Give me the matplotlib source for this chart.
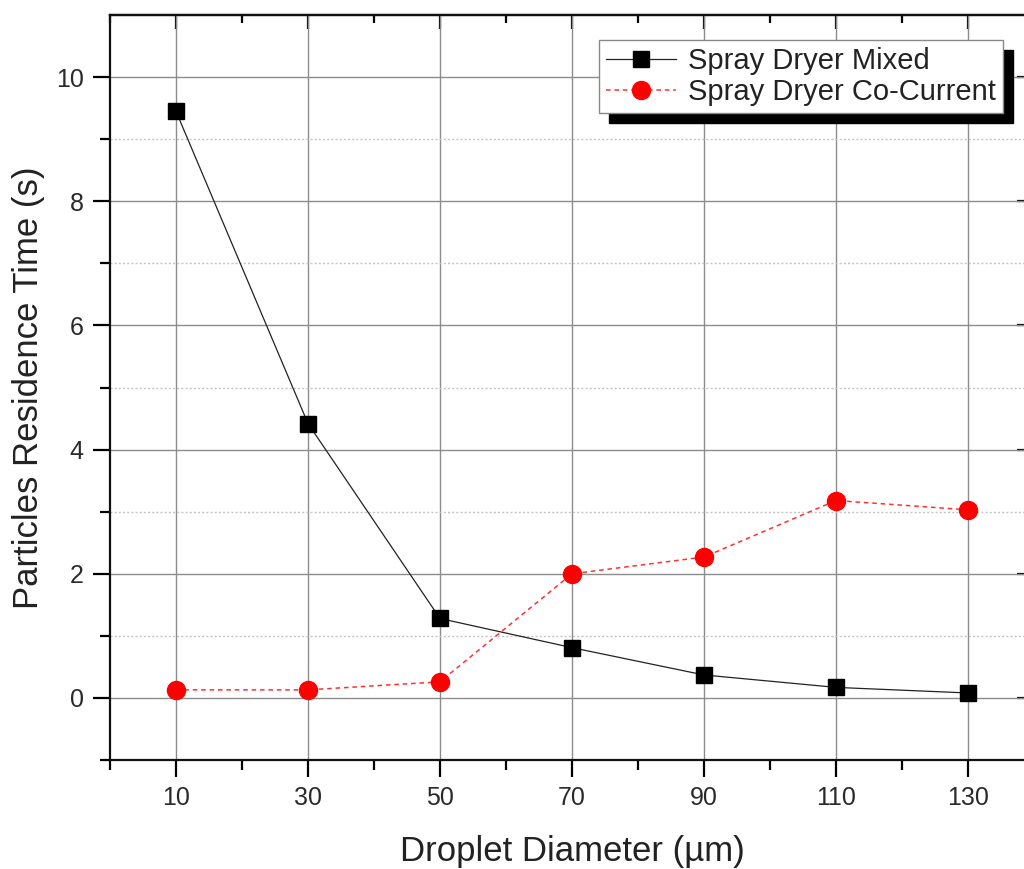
import matplotlib.pyplot as plt
import numpy as np

plt.rcParams['font.family'] = ['Liberation Sans', 'DejaVu Sans']

diameter = [10, 30, 50, 70, 90, 110, 130]
mixed = [9.45, 4.42, 1.28, 0.81, 0.37, 0.17, 0.08]
co_current = [0.13, 0.13, 0.26, 2.00, 2.27, 3.18, 3.03]

fig = plt.figure(figsize=(10.24, 8.69), dpi=100)
# axes run past the right edge of the figure, so the right spine is cut off
ax = fig.add_axes([0.1074, 0.1254, 0.9024, 0.8573])

ax.set_xlim(0, 140)
ax.set_ylim(-1, 11)

# grid: solid major lines, dotted minor lines on y
ax.set_xticks(np.arange(10, 131, 20))
ax.set_xticks(np.arange(0, 141, 20), minor=True)
ax.set_yticks(np.arange(0, 11, 2))
ax.set_yticks(np.arange(-1, 11, 2), minor=True)
ax.grid(which='major', color='#8c8c8c', lw=1.0, zorder=0)
ax.grid(which='minor', axis='y', color='#c4c4c4', lw=1.0, ls=(0, (1.5, 1.5)), zorder=0)
ax.set_axisbelow(True)

ax.plot(diameter, mixed, color='#222222', lw=0.9, marker='s', ms=12,
        mfc='black', mec='black', label='Spray Dryer Mixed', zorder=3)
ax.plot(diameter, co_current, color='#ff3030', lw=1.1, ls=(0, (3, 2.5)), marker='o',
        ms=13, mfc='#ff0000', mec='#ff0000', label='Spray Dryer Co-Current', zorder=3)

for s in ax.spines.values():
    s.set_linewidth(1.6)
    s.set_color('#111111')

ax.tick_params(which='major', direction='out', length=12, width=1.6, labelsize=18,
               labelcolor='#2a2a2a', pad=7, top=False, right=False)
ax.tick_params(which='minor', direction='out', length=7, width=1.6, top=False, right=False)

# inward ticks on the top and right sides
top = ax.secondary_xaxis('top')
top.set_xticks(np.arange(10, 131, 20))
top.set_xticks(np.arange(0, 141, 20), minor=True)
top.tick_params(which='major', direction='in', length=10, width=1.6, labeltop=False)
top.tick_params(which='minor', direction='in', length=6, width=1.6)
top.spines['top'].set_linewidth(1.6)
right = ax.secondary_yaxis('right')
right.set_yticks(np.arange(0, 11, 2))
right.set_yticks(np.arange(-1, 11, 2), minor=True)
right.tick_params(which='major', direction='in', length=12, width=1.6, labelright=False)
right.tick_params(which='minor', direction='in', length=7, width=1.6)

ax.set_xlabel('Droplet Diameter (µm)', fontsize=25, color='#222222', labelpad=18)
ax.set_ylabel('Particles Residence Time (s)', fontsize=25, color='#222222', labelpad=8)

leg = ax.legend(loc='upper right', bbox_to_anchor=(0.9795, 0.954),
                bbox_transform=fig.transFigure, fontsize=21, frameon=True,
                fancybox=False, handlelength=2.4, handletextpad=0.4,
                borderpad=0.25, labelspacing=0.1, borderaxespad=0,
                shadow={'ox': 7, 'oy': -7, 'color': 'black', 'alpha': 1})
leg.get_frame().set_edgecolor('#888888')
leg.get_frame().set_linewidth(1.0)
for t in leg.get_texts():
    t.set_color('#222222')

fig.savefig('out.png', dpi=100)
